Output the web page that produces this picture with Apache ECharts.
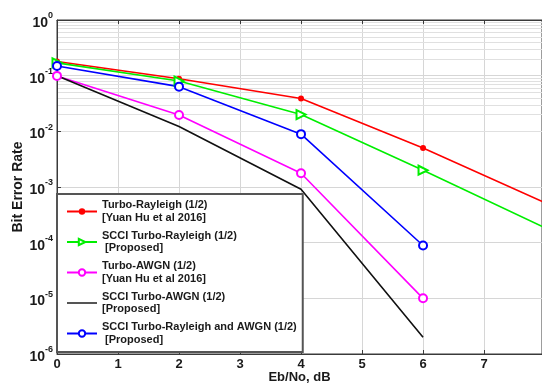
<!DOCTYPE html>
<html>
<head>
<meta charset="utf-8">
<script src="https://cdn.jsdelivr.net/npm/echarts@6/dist/echarts.min.js"></script>
<style>html,body{margin:0;padding:0;background:#fff}#c{width:542px;height:387px}</style>
</head>
<body>
<div id="c"></div>
<script>
// Eb/No points (dB)
const ebno = [0, 2, 4, 6, 8];
const ebnoShort = [0, 2, 4, 6];
// BER values
const turboRayleigh = [0.18, 0.088, 0.039, 0.005, 5.2e-4];
const scciTurboRayleigh = [0.17, 0.08, 0.02, 0.002, 1.85e-4];
const turboAwgn = [0.099, 0.0197, 0.00177, 1e-5];
const scciTurboAwgn = [0.1, 0.0122, 9.1e-4, 2e-6];
const scciRayleighAwgn = [0.149, 0.0635, 0.0089, 8.9e-5];
const seriesNames = [
  'Turbo-Rayleigh (1/2)\n[Yuan Hu et al 2016]',
  'SCCI Turbo-Rayleigh (1/2)\n [Proposed]',
  'Turbo-AWGN (1/2)\n[Yuan Hu et al 2016]',
  'SCCI Turbo-AWGN (1/2)\n[Proposed]',
  'SCCI Turbo-Rayleigh and AWGN (1/2)\n [Proposed]'
];
const xTicks = [0, 1, 2, 3, 4, 5, 6, 7];
const yDecades = [-6, -5, -4, -3, -2, -1, 0];

function pairs(xs, ys) { return ys.map((y, i) => [xs[i], y]); }

// minor grid lines (2..9 x 10^k)
const minorLines = [];
for (let k = -6; k < 0; k++) {
  for (let m = 2; m <= 9; m++) minorLines.push({ yAxis: m * Math.pow(10, k) });
}

const font = 'Arial, "Liberation Sans", sans-serif';
const chart = echarts.init(document.getElementById('c'), null, { renderer: 'canvas' });
chart.setOption({
  animation: false,
  grid: { left: 57, right: 0, top: 20, bottom: 33, show: true, borderColor: '#3a3a3a', borderWidth: 1,
    outerBoundsMode: 'none', containLabel: false },
  xAxis: [{
    type: 'value', min: 0, max: 7.95, interval: 1,
    name: 'Eb/No, dB', nameLocation: 'middle', nameGap: 17, nameMoveOverlap: false,
    nameTextStyle: { fontFamily: font, fontWeight: 'bold', fontSize: 13, color: '#1a1a1a' },
    axisLine: { show: true, lineStyle: { color: '#3a3a3a' } },
    axisTick: { show: true, inside: true, length: 4, lineStyle: { color: '#3a3a3a' } },
    axisLabel: { fontFamily: font, fontWeight: 'bold', fontSize: 13, color: '#1a1a1a', margin: 4,
      showMaxLabel: false, formatter: v => xTicks.includes(v) ? String(v) : '' },
    splitLine: { show: true, lineStyle: { color: '#d6d6d6', width: 1 } }
  }, {
    type: 'value', min: 0, max: 7.95, interval: 1, position: 'top',
    axisLine: { show: true, lineStyle: { color: '#3a3a3a' } },
    axisTick: { show: true, inside: true, length: 4, lineStyle: { color: '#3a3a3a' } },
    axisLabel: { show: false }, splitLine: { show: false }
  }],
  yAxis: {
    type: 'log', logBase: 10, min: 1e-6, max: 1,
    name: 'Bit Error Rate', nameLocation: 'middle', nameGap: 32, nameMoveOverlap: false,
    nameTextStyle: { fontFamily: font, fontWeight: 'bold', fontSize: 14, color: '#1a1a1a' },
    axisLine: { show: true, lineStyle: { color: '#3a3a3a' } },
    axisTick: { show: true, inside: true, length: 4, lineStyle: { color: '#3a3a3a' } },
    axisLabel: {
      margin: 4, color: '#1a1a1a',
      formatter: v => { const e = Math.round(Math.log10(v)); return yDecades.includes(e) ? '{b|10}{s|' + e + '}' : ''; },
      rich: {
        b: { fontFamily: font, fontWeight: 'bold', fontSize: 14, color: '#1a1a1a', padding: [6, 0, 0, 0] },
        s: { fontFamily: font, fontWeight: 'bold', fontSize: 9, color: '#1a1a1a', padding: [0, 0, 8, 0] }
      }
    },
    splitLine: { show: true, lineStyle: { color: '#d6d6d6', width: 1 } }
  },
  legend: {
    data: [
      { name: seriesNames[0] },
      { name: seriesNames[1] },
      { name: seriesNames[2] },
      { name: seriesNames[3], icon: 'path://M0,0 H30 V2 H0 Z', itemStyle: { color: '#555' } },
      { name: seriesNames[4] }
    ],
    orient: 'vertical', left: 57, top: 194,
    padding: [5, 6, 6, 9], itemGap: 5.5, itemWidth: 30, itemHeight: 8,
    backgroundColor: '#fff', borderColor: '#555', borderWidth: 2,
    textStyle: { fontFamily: font, fontWeight: 'bold', fontSize: 11, lineHeight: 12.5, color: '#1a1a1a' }
  },
  series: [
    { name: 'grid', type: 'line', data: [], silent: true, z: 0,
      markLine: { silent: true, symbol: 'none', label: { show: false }, animation: false, z: 0,
        lineStyle: { color: '#e0e0e0', width: 1, type: 'solid' }, data: minorLines } },
    { name: seriesNames[0], type: 'line', data: pairs(ebno, turboRayleigh), clip: true, z: 3,
      symbol: 'circle', symbolSize: 6, color: '#ff0000', lineStyle: { width: 1.6, color: '#ff0000' } },
    { name: seriesNames[1], type: 'line', data: pairs(ebno, scciTurboRayleigh), clip: true, z: 3,
      symbol: 'emptyTriangle', symbolRotate: -90, symbolSize: 9, color: '#00ee00', lineStyle: { width: 1.6, color: '#00ee00' },
      itemStyle: { borderWidth: 1.5 } },
    { name: seriesNames[2], type: 'line', data: pairs(ebnoShort, turboAwgn), clip: true, z: 3,
      symbol: 'emptyCircle', symbolSize: 8, color: '#ff00ff', lineStyle: { width: 1.6, color: '#ff00ff' },
      itemStyle: { borderWidth: 1.5 } },
    { name: seriesNames[3], type: 'line', data: pairs(ebnoShort, scciTurboAwgn), clip: true, z: 3,
      symbol: 'none', color: '#222222', lineStyle: { width: 1.6, color: '#111111' } },
    { name: seriesNames[4], type: 'line', data: pairs(ebnoShort, scciRayleighAwgn), clip: true, z: 3,
      symbol: 'emptyCircle', symbolSize: 8, color: '#0000ff', lineStyle: { width: 1.6, color: '#0000ff' },
      itemStyle: { borderWidth: 1.5 } }
  ]
});
</script>
</body>
</html>
